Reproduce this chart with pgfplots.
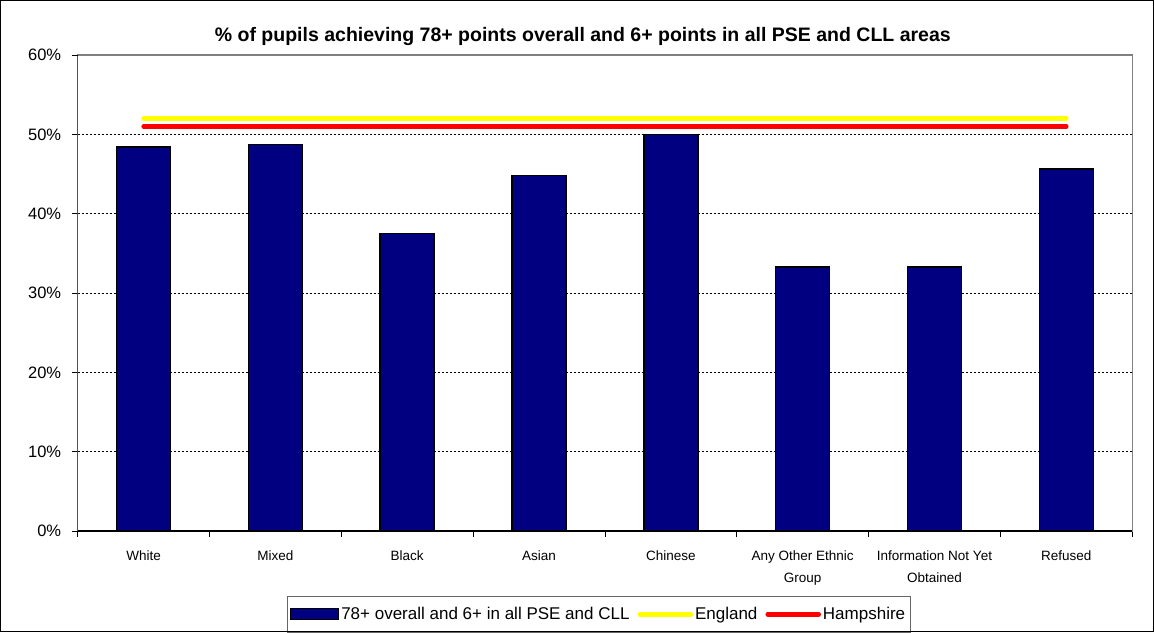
\documentclass[border=0pt]{standalone}
\usepackage{fontspec}
\setmainfont{Liberation Sans}
\usepackage{pgfplots}
\pgfplotsset{compat=1.18}
\definecolor{barnavy}{HTML}{000080}
\definecolor{engyellow}{HTML}{FFFF00}
\definecolor{hamred}{HTML}{FF0000}
\pgfplotsset{
  barlegend/.style={legend image code/.code={\draw[##1, line width=1.2pt] (0pt,-5.5pt) rectangle (48pt,5.5pt);}},
  linelegend/.style={legend image code/.code={\draw[##1] (0pt,0pt) -- (51pt,0pt);}},
}

\begin{document}
\begin{tikzpicture}
\begin{axis}[
    name=ax,
    scale only axis,
    width=1054.5pt, height=476pt,
    xmin=-0.5, xmax=7.5,
    ymin=0, ymax=60,
    xtick={0,...,7},
    xticklabels={White, Mixed, Black, Asian, Chinese, Any Other Ethnic\\Group, Information Not Yet\\Obtained, Refused},
    minor xtick={-0.5,0.5,...,7.5},
    ytick={10,20,...,50},
    extra y ticks={0,60},
    extra y tick style={grid=none},
    yticklabel={\pgfmathprintnumber{\tick}\%},
    /pgf/number format/assume math mode=true,
    tick align=outside,
    xtick pos=bottom, ytick pos=left,
    major tick length=6pt, minor tick length=6pt,
    tick style={black, line width=0.8pt},
    major x tick style={draw=none},
    ymajorgrids,
    grid style={black, line width=0.6pt, dash pattern=on 2pt off 2pt},
    axis line style={draw=gray, line width=1.2pt},
    yticklabel style={font=\fontsize{16.5}{20}\selectfont, xshift=-7pt},
    xticklabel style={font=\fontsize{13.5}{22}\selectfont, align=center, yshift=-10pt},
    title={\% of pupils achieving 78+ points overall and 6+ points in all PSE and CLL areas},
    title style={at={(0.479,1)}, anchor=base, yshift=7pt, font=\bfseries\fontsize{19.5}{22}\selectfont},
    legend columns=3,
    legend style={at={(0.494,0)}, anchor=north, yshift=-65pt, draw=gray!80!black, line width=0.8pt,
        font=\fontsize{17}{20}\selectfont, inner ysep=9pt,
        /tikz/every even column/.append style={column sep=6pt}},
]
\addplot[ybar, bar width=54pt, fill=barnavy, draw=black, line width=1.5pt, barlegend]
coordinates {
    (0,48.4) (1,48.7) (2,37.5) (3,44.8) (4,50.0) (5,33.3) (6,33.3) (7,45.6)
};
\addlegendentry{78+ overall and 6+ in all PSE and CLL}
\addplot[engyellow, line width=4.5pt, line cap=round, no marks, sharp plot, linelegend]
coordinates {
    (0,52) (1,52) (2,52) (3,52) (4,52) (5,52) (6,52) (7,52)
};
\addlegendentry{England}
\addplot[hamred, line width=4.5pt, line cap=round, no marks, sharp plot, linelegend]
coordinates {
    (0,51) (1,51) (2,51) (3,51) (4,51) (5,51) (6,51) (7,51)
};
\addlegendentry{Hampshire}
\draw[black, line width=1.5pt] (rel axis cs:0,1) -- (rel axis cs:0,0) -- (rel axis cs:1,0);
\end{axis}
\pgfresetboundingbox
\draw[black, line width=1pt] ([shift={(-77.2pt,-100.5pt)}]ax.south west) rectangle ([shift={(21.3pt,54.5pt)}]ax.north east);
\end{tikzpicture}
\end{document}
